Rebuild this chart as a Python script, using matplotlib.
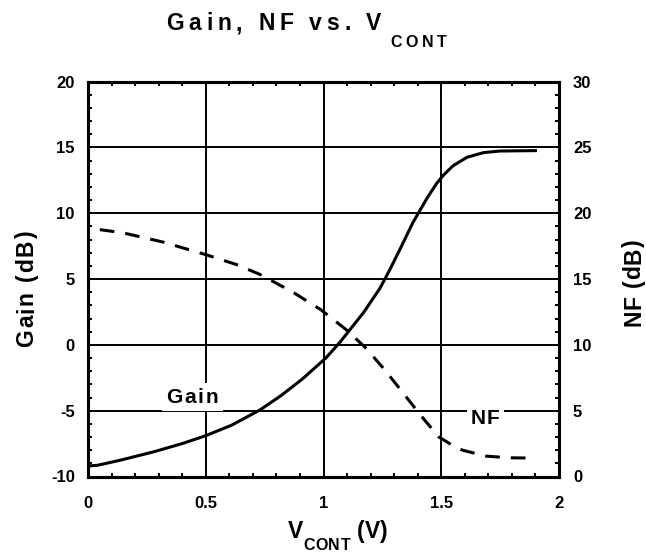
import numpy as np
import matplotlib
matplotlib.use("Agg")
import matplotlib.pyplot as plt
from matplotlib.ticker import MultipleLocator
from matplotlib.font_manager import FontProperties, findfont, get_font
from matplotlib.transforms import offset_copy

plt.rcParams["axes.unicode_minus"] = False

# control voltage sweep (V) and measured curves
v_gain = [0.0, 0.04, 0.14, 0.28, 0.4, 0.5, 0.61, 0.73, 0.82, 0.91, 1.01,
          1.07, 1.11, 1.17, 1.24, 1.28, 1.33, 1.38, 1.44, 1.48, 1.51, 1.55,
          1.61, 1.68, 1.75, 1.9]
gain_db = [-9.2, -9.15, -8.75, -8.12, -7.5, -6.9, -6.1, -4.95, -3.85, -2.6,
           -1.0, 0.2, 1.1, 2.45, 4.3, 5.65, 7.45, 9.3, 11.15, 12.25, 12.9,
           13.6, 14.25, 14.6, 14.72, 14.75]

v_nf = [0.05, 0.15, 0.32, 0.5, 0.63, 0.73, 0.87, 0.99, 1.1, 1.18, 1.26,
        1.34, 1.41, 1.49, 1.54, 1.59, 1.69, 1.79, 1.89]
nf_db = [18.75, 18.5, 17.8, 16.85, 16.1, 15.35, 14.0, 12.65, 11.1, 9.75, 8.1,
         6.3, 4.7, 3.0, 2.45, 2.0, 1.55, 1.42, 1.4]

x_ticks = [0, 0.5, 1, 1.5, 2]
x_tick_labels = ["0", "0.5", "1", "1.5", "2"]
gain_ticks = [-10, -5, 0, 5, 10, 15, 20]
nf_ticks = [0, 5, 10, 15, 20, 25, 30]

FONT = "Liberation Sans"
W, H = 646, 554


def tracked(fig, base, x, y, s, size, track, rotation=0, ha="left", box=False):
    """Bold text with extra letter spacing, drawn one glyph at a time."""
    prop = FontProperties(family=FONT, weight="bold", size=size)
    ft = get_font(findfont(prop))
    ft.set_size(size, 72)
    adv = [ft.load_char(ord(c)).linearHoriAdvance / 65536 + track for c in s]
    total = sum(adv) - track
    start = {"left": 0.0, "center": -total / 2, "right": -total}[ha]
    passes = [("white", True), ("black", False)] if box else [("black", False)]
    for color, with_box in passes:
        pos = start
        for c, a in zip(s, adv):
            dx, dy = (pos, 0) if rotation == 0 else (0, pos)
            tr = offset_copy(base, fig=fig, x=dx, y=dy, units="points")
            bb = None
            if with_box:
                bb = dict(boxstyle="square,pad=0.2", facecolor="white",
                          edgecolor="none")
            fig.text(x, y, c, transform=tr, fontproperties=prop, color=color,
                     rotation=rotation, rotation_mode="anchor",
                     ha="left", va="baseline", bbox=bb, zorder=5)
            pos += a


def fig_text(fig, px, py, s, size, track, **kw):
    tracked(fig, fig.transFigure, px / W, 1 - py / H, s, size, track, **kw)


fig = plt.figure(figsize=(W / 100, H / 100), dpi=100)
ax = fig.add_axes([88 / W, 1 - 476.5 / H, 471 / W, 395 / H])
ax2 = ax.twinx()

ax.plot(v_gain, gain_db, color="black", lw=2.2, solid_joinstyle="round")
ax2.plot(v_nf, nf_db, color="black", lw=2.2, linestyle=(0, (4.8, 3.6)))

ax.set_xlim(0, 2)
ax.set_ylim(-10, 20)
ax2.set_ylim(0, 30)
ax.set_xticks(x_ticks)
ax.set_xticklabels(x_tick_labels)
ax.set_yticks(gain_ticks)
ax2.set_yticks(nf_ticks)
ax.xaxis.set_minor_locator(MultipleLocator(0.1))
ax.yaxis.set_minor_locator(MultipleLocator(1))
ax2.yaxis.set_minor_locator(MultipleLocator(1))

ax.grid(True, which="major", color="black", lw=1.4)
for a in (ax, ax2):
    for sp in a.spines.values():
        sp.set_linewidth(2.2)

ax.tick_params(axis="x", which="both", direction="in", top=True, width=1.4)
ax.tick_params(axis="x", which="major", length=6, pad=14)
ax.tick_params(axis="x", which="minor", length=3)
ax.tick_params(axis="y", which="both", direction="in", width=1.4)
ax.tick_params(axis="y", which="major", length=6, pad=9.5)
ax.tick_params(axis="y", which="minor", length=3)
ax2.tick_params(axis="y", which="both", direction="in", width=1.4)
ax2.tick_params(axis="y", which="major", length=6, pad=10)
ax2.tick_params(axis="y", which="minor", length=3)

for lab in ax.get_xticklabels() + ax.get_yticklabels() + ax2.get_yticklabels():
    lab.set_fontfamily(FONT)
    lab.set_fontweight("bold")
    lab.set_fontsize(12)

# curve labels sitting on the grid with a white backing
tracked(fig, ax.transData, 0.33, -4.38, "Gain", 15, 1.6, box=True)
tracked(fig, ax2.transData, 1.625, 3.98, "NF", 15, 1.0, box=True)

# title and axis labels
fig_text(fig, 166, 30, "Gain, NF vs. V", 16.5, 3.4)
fig_text(fig, 390, 47, "CONT", 11.5, 2.8)
fig_text(fig, 288, 538, "V", 16.5, 0)
fig_text(fig, 303, 550, "CONT", 11.5, 0.5)
fig_text(fig, 357, 538, "(V)", 16.5, 0)
fig_text(fig, 33, 288.5, "Gain (dB)", 16.5, 1.2, rotation=90, ha="center")
fig_text(fig, 640, 283, "NF (dB)", 16.5, 0.5, rotation=90, ha="center")

fig.savefig("out.png", dpi=100)
